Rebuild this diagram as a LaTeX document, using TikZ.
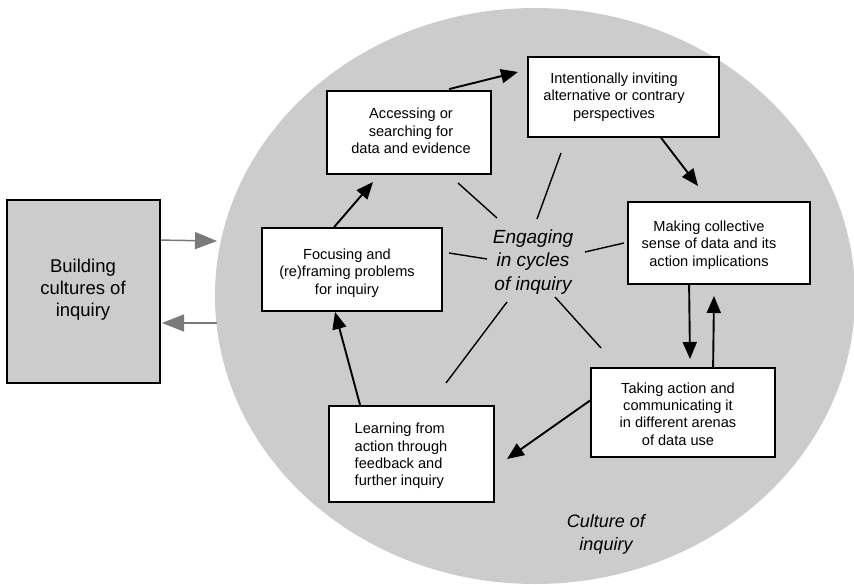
\documentclass[tikz,border=0pt]{standalone}
\usepackage{fontspec}
\setmainfont{Liberation Sans}
\usetikzlibrary{arrows.meta,calc}
\definecolor{cgray}{HTML}{CCCCCC}
\definecolor{agray}{HTML}{7A7A7A}
\tikzset{
  box/.style={draw=black, line width=1.8pt, fill=white, inner sep=0pt},
  btext/.style={align=center, inner sep=0pt, font=\fontsize{14.6}{17.4}\selectfont},
  arr/.style={line width=1.9pt, -{Triangle[length=17pt,width=14pt]}},
  garr/.style={agray, line width=1.5pt, -{Triangle[length=22pt,width=17pt]}},
  spoke/.style={line width=1.4pt},
  itext/.style={align=center, font=\fontsize{19}{23.5}\selectfont\itshape}
}
\begin{document}
\begin{tikzpicture}[x=1pt,y=-1pt]
\useasboundingbox (0,0) rectangle (854,585);
\fill[cgray] (535,296) ellipse [x radius=320, y radius=288];

\node[box, fill=cgray, minimum width=153pt, minimum height=183pt] (bld) at (83.5,291.5) {};
\node[btext, font=\fontsize{18.5}{22}\selectfont] (bld-t) at (83,290) {Building\\cultures of\\inquiry};

\node[box, minimum width=164pt, minimum height=83pt] (acc) at (409,132.5) {};
\node[btext] (acc-t) at (411,131) {Accessing or\\searching for\\data and evidence};
\node[box, minimum width=191pt, minimum height=80pt] (int) at (623.5,97) {};
\node[btext] (int-t) at (614,97) {Intentionally inviting\\alternative or contrary\\perspectives};
\node[box, minimum width=182pt, minimum height=82pt] (mak) at (719,243) {};
\node[btext] (mak-t) at (709,245) {Making collective\\sense of data and its\\action implications};
\node[box, minimum width=184pt, minimum height=89pt] (tak) at (683,412.5) {};
\node[btext] (tak-t) at (678,414) {Taking action and\\communicating it\\in different arenas\\of data use};
\node[box, minimum width=165pt, minimum height=96pt] (lea) at (411.5,454) {};
\node[btext, align=left] (lea-t) at (401,456) {Learning from\\action through\\feedback and\\further inquiry};
\node[box, minimum width=180pt, minimum height=83pt] (foc) at (352,269.5) {};
\node[btext] (foc-t) at (347,273) {Focusing and\\(re)framing problems\\for inquiry};

\node[itext] (eng) at (533,262) {Engaging\\in cycles\\of inquiry};
\node[itext, font=\fontsize{18}{23}\selectfont\itshape] (cul) at (606,534) {Culture of\\inquiry};

% spokes
\coordinate (s1a) at (458,183); \coordinate (s1b) at (497,218);
\coordinate (s2a) at (537,219); \coordinate (s2b) at (561,153);
\coordinate (s3a) at (585,252); \coordinate (s3b) at (624,243);
\coordinate (s4a) at (449,253); \coordinate (s4b) at (487,259);
\coordinate (s5a) at (555,297); \coordinate (s5b) at (601,348);
\coordinate (s6a) at (507,302); \coordinate (s6b) at (446,383);
\draw[spoke] (s1a) -- (s1b);
\draw[spoke] (s2a) -- (s2b);
\draw[spoke] (s3a) -- (s3b);
\draw[spoke] (s4a) -- (s4b);
\draw[spoke] (s5a) -- (s5b);
\draw[spoke] (s6a) -- (s6b);

% cycle arrows
\coordinate (t1) at (373,182);
\coordinate (t2) at (518,72);
\coordinate (t3) at (698,186);
\coordinate (t4) at (690,359);
\coordinate (t5) at (714,296);
\coordinate (t6) at (507,459);
\coordinate (t7) at (335,312);
\draw[arr] ($(foc.north west)+(73,0)$) -- (t1);
\draw[arr] ($(acc.north west)+(123,-1)$) -- (t2);
\draw[arr] ($(int.south west)+(134,0)$) -- (t3);
\draw[arr] ($(mak.south west)+(62,0)$) -- (t4);
\draw[arr] ($(tak.north west)+(123,0)$) -- (t5);
\draw[arr] ($(tak.west)+(0,-12)$) -- (t6);
\draw[arr] ($(lea.north west)+(32,0)$) -- (t7);

% gray arrows
\coordinate (g1) at (217,241);
\coordinate (g2) at (162,323);
\draw[garr] ($(bld.north east)+(0,41)$) -- (g1);
\draw[garr] (217,323) -- (g2);
\end{tikzpicture}
\end{document}
